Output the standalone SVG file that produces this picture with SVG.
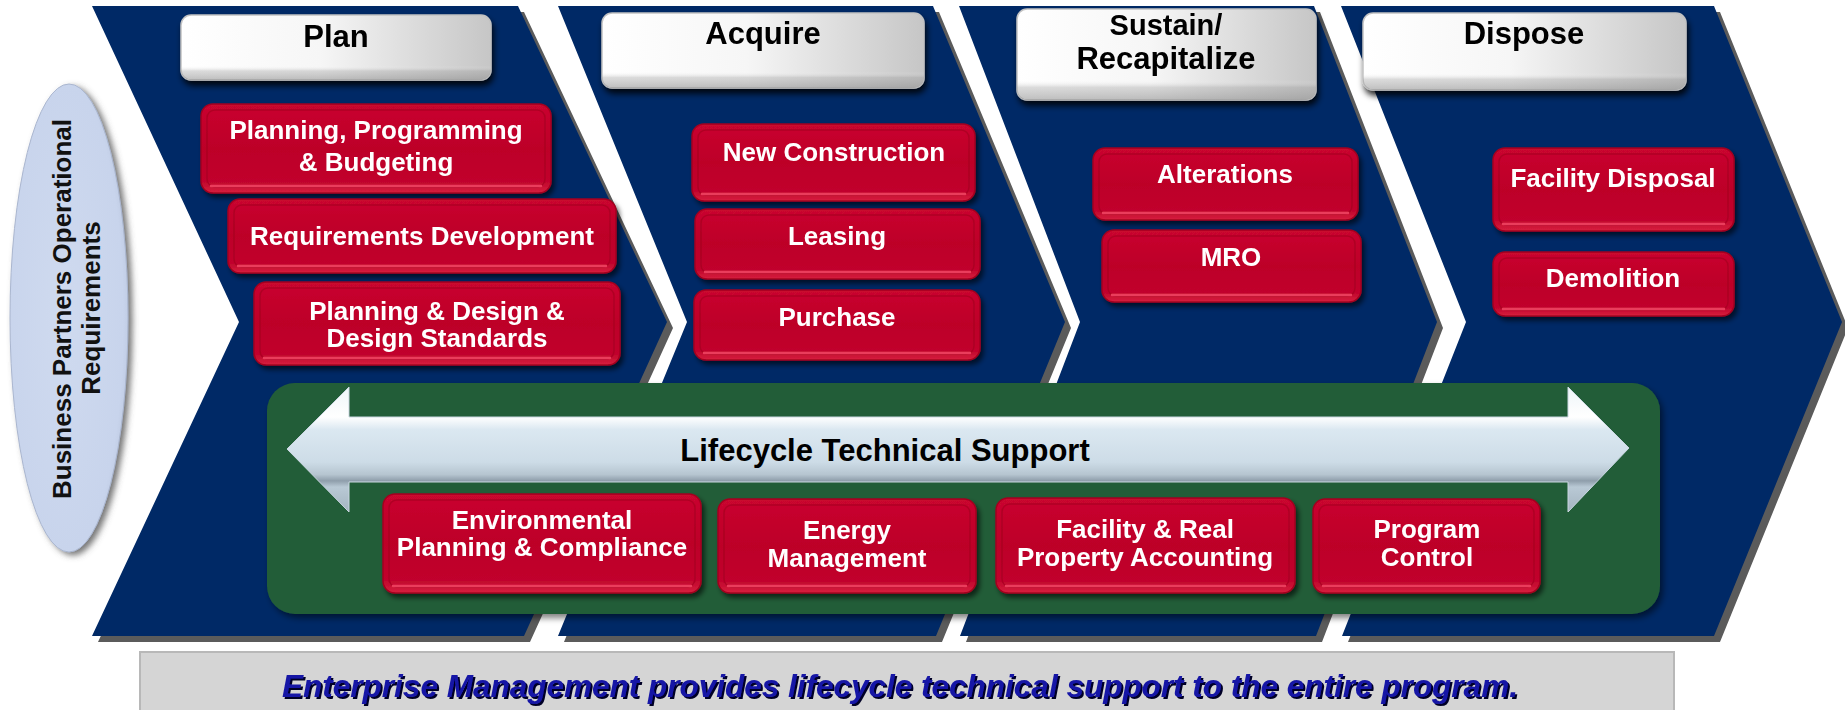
<svg xmlns="http://www.w3.org/2000/svg" width="1845" height="710" viewBox="0 0 1845 710">
<defs>
<style>
.chev{fill:#002966}
.chsh{fill:#5b5b5b}
.tb{fill:url(#titleH);stroke:#c2c2c2;stroke-width:1.5}
.tbv{fill:url(#titleV)}
.tt{font-family:"Liberation Sans",Arial,sans-serif;font-weight:bold;font-size:31px;fill:#000;text-anchor:middle}
.tt2{font-size:29px}
.rb{fill:url(#redG);stroke:#a3001f;stroke-width:1.5}
.rbi{fill:none;stroke:#9c001d;stroke-opacity:0.55;stroke-width:1.5}
.rbh{stroke:#ea3d5b;stroke-width:2.5;stroke-linecap:round}
.rt{font-family:"Liberation Sans",Arial,sans-serif;font-weight:bold;font-size:26px;fill:#fff;text-anchor:middle}
.et{font-family:"Liberation Sans",Arial,sans-serif;font-weight:bold;font-size:26px;fill:#111;text-anchor:middle}
</style>
<linearGradient id="titleH" x1="0" y1="0" x2="1" y2="0">
<stop offset="0" stop-color="#ffffff"/>
<stop offset="0.45" stop-color="#f6f6f6"/>
<stop offset="1" stop-color="#c6c6c6"/>
</linearGradient>
<linearGradient id="titleV" x1="0" y1="0" x2="0" y2="1">
<stop offset="0" stop-color="#ffffff" stop-opacity="0"/>
<stop offset="0.78" stop-color="#ffffff" stop-opacity="0"/>
<stop offset="0.86" stop-color="#9a9a9a" stop-opacity="0.35"/>
<stop offset="1" stop-color="#8a8a8a" stop-opacity="0.55"/>
</linearGradient>
<linearGradient id="redG" x1="0" y1="0" x2="0" y2="1">
<stop offset="0" stop-color="#c9072f"/>
<stop offset="0.5" stop-color="#bd0028"/>
<stop offset="0.88" stop-color="#c1062d"/>
<stop offset="1" stop-color="#d7203f"/>
</linearGradient>
<linearGradient id="arrowG" gradientUnits="userSpaceOnUse" x1="0" y1="387" x2="0" y2="512">
<stop offset="0" stop-color="#eef5f9"/>
<stop offset="0.24" stop-color="#ffffff"/>
<stop offset="0.34" stop-color="#dbe8f1"/>
<stop offset="0.6" stop-color="#cddce7"/>
<stop offset="0.7" stop-color="#b6c5d0"/>
<stop offset="0.75" stop-color="#8f9eab"/>
<stop offset="0.8" stop-color="#b9c9d5"/>
<stop offset="1" stop-color="#a4b4c0"/>
</linearGradient>
<radialGradient id="ellG" cx="0.45" cy="0.5" r="0.6">
<stop offset="0" stop-color="#cfdaef"/>
<stop offset="0.85" stop-color="#c8d4ec"/>
<stop offset="1" stop-color="#b9c5dd"/>
</radialGradient>
<filter id="boxSh" x="-10%" y="-20%" width="125%" height="150%">
<feDropShadow dx="3" dy="4" stdDeviation="2.5" flood-color="#000" flood-opacity="0.6"/>
</filter>
<filter id="titleSh" x="-10%" y="-20%" width="125%" height="160%">
<feDropShadow dx="2" dy="5" stdDeviation="3" flood-color="#000" flood-opacity="0.85"/>
</filter>
<filter id="greenSh" x="-5%" y="-5%" width="110%" height="115%">
<feDropShadow dx="3" dy="4" stdDeviation="3" flood-color="#000" flood-opacity="0.5"/>
</filter>
<filter id="ellSh" x="-30%" y="-10%" width="160%" height="120%">
<feDropShadow dx="4" dy="3" stdDeviation="3" flood-color="#555" flood-opacity="0.8"/>
</filter>
<filter id="txtSh" x="-5%" y="-30%" width="110%" height="160%">
<feDropShadow dx="2" dy="2" stdDeviation="0.4" flood-color="#000028" flood-opacity="1"/>
</filter>
</defs>

<rect x="0" y="0" width="1845" height="710" fill="#ffffff"/>

<g id="phase-chevrons">
<g transform="translate(6,6)">
<polygon class="chsh" points="92,6 518,6 667,322 524,636 92,636 239,322"/>
<polygon class="chsh" points="558,6 933,6 1065,322 936,636 558,636 687,322"/>
<polygon class="chsh" points="959,6 1314,6 1437,322 1316,636 960,636 1080,322"/>
<polygon class="chsh" points="1341,6 1714,6 1842,322 1714,636 1342,636 1466,322"/>
</g>
<polygon id="chevron-plan" class="chev" points="92,6 518,6 667,322 524,636 92,636 239,322"/>
<polygon id="chevron-acquire" class="chev" points="558,6 933,6 1065,322 936,636 558,636 687,322"/>
<polygon id="chevron-sustain" class="chev" points="959,6 1314,6 1437,322 1316,636 960,636 1080,322"/>
<polygon id="chevron-dispose" class="chev" points="1341,6 1714,6 1842,322 1714,636 1342,636 1466,322"/>
</g>

<g id="business-requirements">
<ellipse cx="69" cy="318" rx="59" ry="234" fill="url(#ellG)" stroke="#aab6cf" stroke-width="1" filter="url(#ellSh)"/>
<text class="et" transform="translate(71,309) rotate(-90)">Business Partners Operational</text>
<text class="et" transform="translate(100,308) rotate(-90)">Requirements</text>
</g>

<g id="title-plan" filter="url(#titleSh)">
<rect class="tb" x="181" y="15" width="310" height="65" rx="10"/>
<rect class="tbv" x="181" y="15" width="310" height="65" rx="10"/>
<text class="tt" x="336" y="47">Plan</text>
</g>
<g id="title-acquire" filter="url(#titleSh)">
<rect class="tb" x="602" y="13" width="322" height="75" rx="10"/>
<rect class="tbv" x="602" y="13" width="322" height="75" rx="10"/>
<text class="tt" x="763" y="44">Acquire</text>
</g>
<g id="title-sustain" filter="url(#titleSh)">
<rect class="tb" x="1017" y="9" width="299" height="91" rx="10"/>
<rect class="tbv" x="1017" y="9" width="299" height="91" rx="10"/>
<text class="tt tt2" x="1166" y="35">Sustain/</text>
<text class="tt" x="1166" y="69">Recapitalize</text>
</g>
<g id="title-dispose" filter="url(#titleSh)">
<rect class="tb" x="1363" y="13" width="323" height="77" rx="10"/>
<rect class="tbv" x="1363" y="13" width="323" height="77" rx="10"/>
<text class="tt" x="1524" y="44">Dispose</text>
</g>

<g id="box-ppb" filter="url(#boxSh)">
<rect class="rb" x="201" y="104" width="350" height="89" rx="12"/>
<rect class="rbi" x="207" y="110" width="338" height="77" rx="8"/>
<line class="rbh" x1="211" y1="186" x2="541" y2="186"/>
<text class="rt" x="376" y="139">Planning, Programming</text>
<text class="rt" x="376" y="171">&amp; Budgeting</text>
</g>
<g id="box-reqdev" filter="url(#boxSh)">
<rect class="rb" x="228" y="199" width="388" height="74" rx="12"/>
<rect class="rbi" x="234" y="205" width="376" height="62" rx="8"/>
<line class="rbh" x1="238" y1="266" x2="606" y2="266"/>
<text class="rt" x="422" y="245">Requirements Development</text>
</g>
<g id="box-pdds" filter="url(#boxSh)">
<rect class="rb" x="254" y="282" width="366" height="83" rx="12"/>
<rect class="rbi" x="260" y="288" width="354" height="71" rx="8"/>
<line class="rbh" x1="264" y1="358" x2="610" y2="358"/>
<text class="rt" x="437" y="320">Planning &amp; Design &amp;</text>
<text class="rt" x="437" y="347">Design Standards</text>
</g>

<g id="box-newcon" filter="url(#boxSh)">
<rect class="rb" x="692" y="124" width="283" height="77" rx="12"/>
<rect class="rbi" x="698" y="130" width="271" height="65" rx="8"/>
<line class="rbh" x1="702" y1="194" x2="965" y2="194"/>
<text class="rt" x="834" y="161">New Construction</text>
</g>
<g id="box-leasing" filter="url(#boxSh)">
<rect class="rb" x="695" y="209" width="285" height="70" rx="12"/>
<rect class="rbi" x="701" y="215" width="273" height="58" rx="8"/>
<line class="rbh" x1="705" y1="272" x2="970" y2="272"/>
<text class="rt" x="837" y="245">Leasing</text>
</g>
<g id="box-purchase" filter="url(#boxSh)">
<rect class="rb" x="694" y="290" width="286" height="70" rx="12"/>
<rect class="rbi" x="700" y="296" width="274" height="58" rx="8"/>
<line class="rbh" x1="704" y1="353" x2="970" y2="353"/>
<text class="rt" x="837" y="326">Purchase</text>
</g>

<g id="box-alterations" filter="url(#boxSh)">
<rect class="rb" x="1093" y="148" width="265" height="72" rx="12"/>
<rect class="rbi" x="1099" y="154" width="253" height="60" rx="8"/>
<line class="rbh" x1="1103" y1="213" x2="1348" y2="213"/>
<text class="rt" x="1225" y="183">Alterations</text>
</g>
<g id="box-mro" filter="url(#boxSh)">
<rect class="rb" x="1102" y="230" width="259" height="72" rx="12"/>
<rect class="rbi" x="1108" y="236" width="247" height="60" rx="8"/>
<line class="rbh" x1="1112" y1="295" x2="1351" y2="295"/>
<text class="rt" x="1231" y="266">MRO</text>
</g>

<g id="box-facdisp" filter="url(#boxSh)">
<rect class="rb" x="1493" y="148" width="241" height="83" rx="12"/>
<rect class="rbi" x="1499" y="154" width="229" height="71" rx="8"/>
<line class="rbh" x1="1503" y1="224" x2="1724" y2="224"/>
<text class="rt" x="1613" y="187">Facility Disposal</text>
</g>
<g id="box-demolition" filter="url(#boxSh)">
<rect class="rb" x="1493" y="252" width="241" height="64" rx="12"/>
<rect class="rbi" x="1499" y="258" width="229" height="52" rx="8"/>
<line class="rbh" x1="1503" y1="309" x2="1724" y2="309"/>
<text class="rt" x="1613" y="287">Demolition</text>
</g>

<g id="lifecycle-panel">
<rect x="267" y="383" width="1393" height="231" rx="28" fill="#235d37" filter="url(#greenSh)"/>
</g>

<g id="connectors">
<g id="lifecycle-arrow">
<path d="M287,449 L349,387 L349,417 L1568,417 L1568,387 L1629,448 L1568,512 L1568,482 L349,482 L349,512 Z" fill="url(#arrowG)" stroke="#c9d6e0" stroke-width="1"/>
<text x="885" y="461" font-family="'Liberation Sans',Arial,sans-serif" font-weight="bold" font-size="31" fill="#000" text-anchor="middle">Lifecycle Technical Support</text>
</g>
</g>

<g id="box-env" filter="url(#boxSh)">
<rect class="rb" x="383" y="494" width="318" height="99" rx="12"/>
<rect class="rbi" x="389" y="500" width="306" height="87" rx="8"/>
<line class="rbh" x1="393" y1="586" x2="691" y2="586"/>
<text class="rt" x="542" y="529">Environmental</text>
<text class="rt" x="542" y="556">Planning &amp; Compliance</text>
</g>
<g id="box-energy" filter="url(#boxSh)">
<rect class="rb" x="718" y="499" width="258" height="94" rx="12"/>
<rect class="rbi" x="724" y="505" width="246" height="82" rx="8"/>
<line class="rbh" x1="728" y1="586" x2="966" y2="586"/>
<text class="rt" x="847" y="539">Energy</text>
<text class="rt" x="847" y="567">Management</text>
</g>
<g id="box-frpa" filter="url(#boxSh)">
<rect class="rb" x="996" y="498" width="299" height="95" rx="12"/>
<rect class="rbi" x="1002" y="504" width="287" height="83" rx="8"/>
<line class="rbh" x1="1006" y1="586" x2="1285" y2="586"/>
<text class="rt" x="1145" y="538">Facility &amp; Real</text>
<text class="rt" x="1145" y="566">Property Accounting</text>
</g>
<g id="box-progctl" filter="url(#boxSh)">
<rect class="rb" x="1313" y="499" width="227" height="94" rx="12"/>
<rect class="rbi" x="1319" y="505" width="215" height="82" rx="8"/>
<line class="rbh" x1="1323" y1="586" x2="1530" y2="586"/>
<text class="rt" x="1427" y="538">Program</text>
<text class="rt" x="1427" y="566">Control</text>
</g>

<g id="banner">
<rect x="140" y="652" width="1534" height="62" fill="#d5d5d5" stroke="#b8b8b8" stroke-width="2"/>
<text x="900" y="697" font-family="'Liberation Sans',Arial,sans-serif" font-weight="bold" font-style="italic" font-size="31.5" fill="#1616a6" text-anchor="middle" filter="url(#txtSh)">Enterprise Management provides lifecycle technical support to the entire program.</text>
</g>
</svg>
